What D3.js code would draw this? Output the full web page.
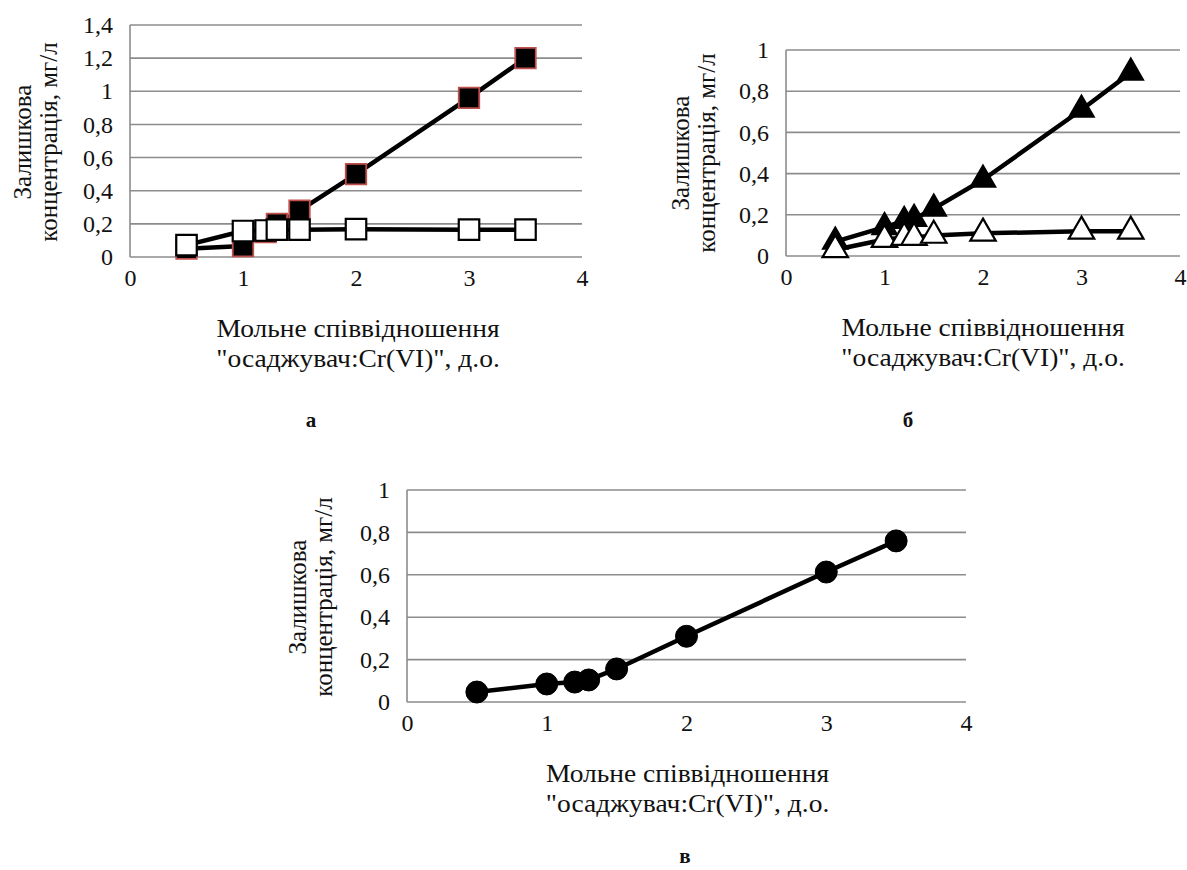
<!DOCTYPE html>
<html><head><meta charset="utf-8">
<script src="https://cdn.jsdelivr.net/npm/d3@7"></script>
<style>body{margin:0;background:#fff}svg{display:block}
svg text{font-family:"Liberation Serif","Times New Roman",serif;fill:#111}</style>
</head><body>
<svg id="c" width="1187" height="870"></svg>
<script>
const xValues = [0.5, 1, 1.2, 1.3, 1.5, 2, 3, 3.5];
const aFilled = [0.05, 0.066, 0.15, 0.20, 0.28, 0.50, 0.96, 1.20];
const aHollow = [0.072, 0.157, 0.16, 0.165, 0.165, 0.168, 0.165, 0.165];
const bFilled = [0.07, 0.14, 0.17, 0.18, 0.23, 0.37, 0.71, 0.89];
const bHollow = [0.03, 0.08, 0.09, 0.09, 0.10, 0.11, 0.12, 0.12];
const cValues = [0.047, 0.085, 0.094, 0.104, 0.156, 0.31, 0.613, 0.76];
const xTicks = [0, 1, 2, 3, 4];
const aYTicks = [0, 0.2, 0.4, 0.6, 0.8, 1, 1.2, 1.4];
const bYTicks = [0, 0.2, 0.4, 0.6, 0.8, 1];
const yTitle = ["Залишкова", "концентрація, мг/л"];
const xTitle = ["Мольне співвідношення", "\"осаджувач:Cr(VI)\",  д.о."];
const panelLabels = ["а", "б", "в"];

const svg = d3.select("#c");
const TFS = 24, LFS = 25;
const fmt = v => String(v).replace(".", ",");

function panel(o) {
  const x = d3.scaleLinear().domain([0, 4]).range([o.x0, o.x1]);
  const y = d3.scaleLinear().domain([0, o.ymax]).range([o.y0, o.y1]);
  const g = svg.append("g");
  g.selectAll("line.grid").data(o.yTicks).join("line")
    .attr("x1", o.x0).attr("x2", o.x1)
    .attr("y1", d => y(d)).attr("y2", d => y(d))
    .attr("stroke", "#8c8c8c").attr("stroke-width", 1.6);
  g.append("line").attr("x1", o.x0).attr("x2", o.x0).attr("y1", o.y0).attr("y2", o.y1)
    .attr("stroke", "#8c8c8c").attr("stroke-width", 1.6);
  const ya = d3.axisLeft(y).tickValues(o.yTicks).tickFormat(fmt).tickSize(0).tickPadding(17);
  const yg = g.append("g").attr("transform", `translate(${o.x0},0)`).call(ya);
  yg.select(".domain").remove();
  yg.attr("font-family", null).attr("font-size", null).selectAll("text").attr("font-size", TFS);
  const xa = d3.axisBottom(x).tickValues(xTicks).tickFormat(fmt).tickSize(0).tickPadding(12);
  const xg = g.append("g").attr("transform", `translate(0,${o.y0})`).call(xa);
  xg.select(".domain").remove();
  xg.attr("font-family", null).attr("font-size", null).selectAll("text").attr("font-size", TFS);
  const cx = (o.x0 + o.x1) / 2 + o.dx;
  g.append("text").attr("font-size", LFS).attr("text-anchor", "middle")
    .attr("transform", `translate(${cx},${o.y0 + 80}) scale(1.1,1)`)
    .selectAll("tspan").data(xTitle).join("tspan")
    .attr("x", 0).attr("y", (d, i) => i * 30).text(d => d);
  yTitle.forEach((t, i) => {
    g.append("text").attr("font-size", LFS).attr("text-anchor", "middle")
      .attr("transform", `translate(${o.tx + i * 26},${o.cy}) rotate(-90)`).text(t);
  });
  g.append("text").attr("x", o.lx).attr("y", o.ly).attr("text-anchor", "middle")
    .attr("font-size", 21).attr("font-weight", "bold").text(o.label);
  return {g, x, y};
}

function series(p, vals, marker) {
  const data = xValues.map((v, i) => [v, vals[i]]);
  const line = d3.line().x(d => p.x(d[0])).y(d => p.y(d[1]));
  p.g.append("path").datum(data).attr("d", line).attr("fill", "none")
    .attr("stroke", "#000").attr("stroke-width", 4.5).attr("stroke-linejoin", "round");
  const sym = d3.symbol().type(marker.type).size(marker.size);
  p.g.selectAll(null).data(data).join("path")
    .attr("d", sym)
    .attr("transform", d => `translate(${p.x(d[0])},${p.y(d[1])})`)
    .attr("fill", marker.fill).attr("stroke", marker.stroke).attr("stroke-width", marker.sw);
}

const pa = panel({x0: 130, x1: 582, y0: 257, y1: 25, ymax: 1.4, yTicks: aYTicks, tx: 31, cy: 142, lx: 311, ly: 427, dx: 2, label: panelLabels[0]});
series(pa, aFilled, {type: d3.symbolSquare, size: 420, fill: "#000", stroke: "#c0504d", sw: 1.8});
series(pa, aHollow, {type: d3.symbolSquare, size: 420, fill: "#fff", stroke: "#000", sw: 2.2});

const pb = panel({x0: 786, x1: 1180, y0: 256, y1: 50, ymax: 1, yTicks: bYTicks, tx: 689, cy: 153, lx: 908, ly: 427, dx: 0, label: panelLabels[1]});
series(pb, bFilled, {type: d3.symbolTriangle, size: 280, fill: "#000", stroke: "#000", sw: 1.5});
series(pb, bHollow, {type: d3.symbolTriangle, size: 280, fill: "#fff", stroke: "#000", sw: 2.2});

const pc = panel({x0: 407, x1: 966, y0: 702, y1: 490, ymax: 1, yTicks: bYTicks, tx: 306, cy: 597, lx: 685, ly: 863, dx: 1, label: panelLabels[2]});
series(pc, cValues, {type: d3.symbolCircle, size: 380, fill: "#000", stroke: "#000", sw: 1});
</script>
</body></html>
